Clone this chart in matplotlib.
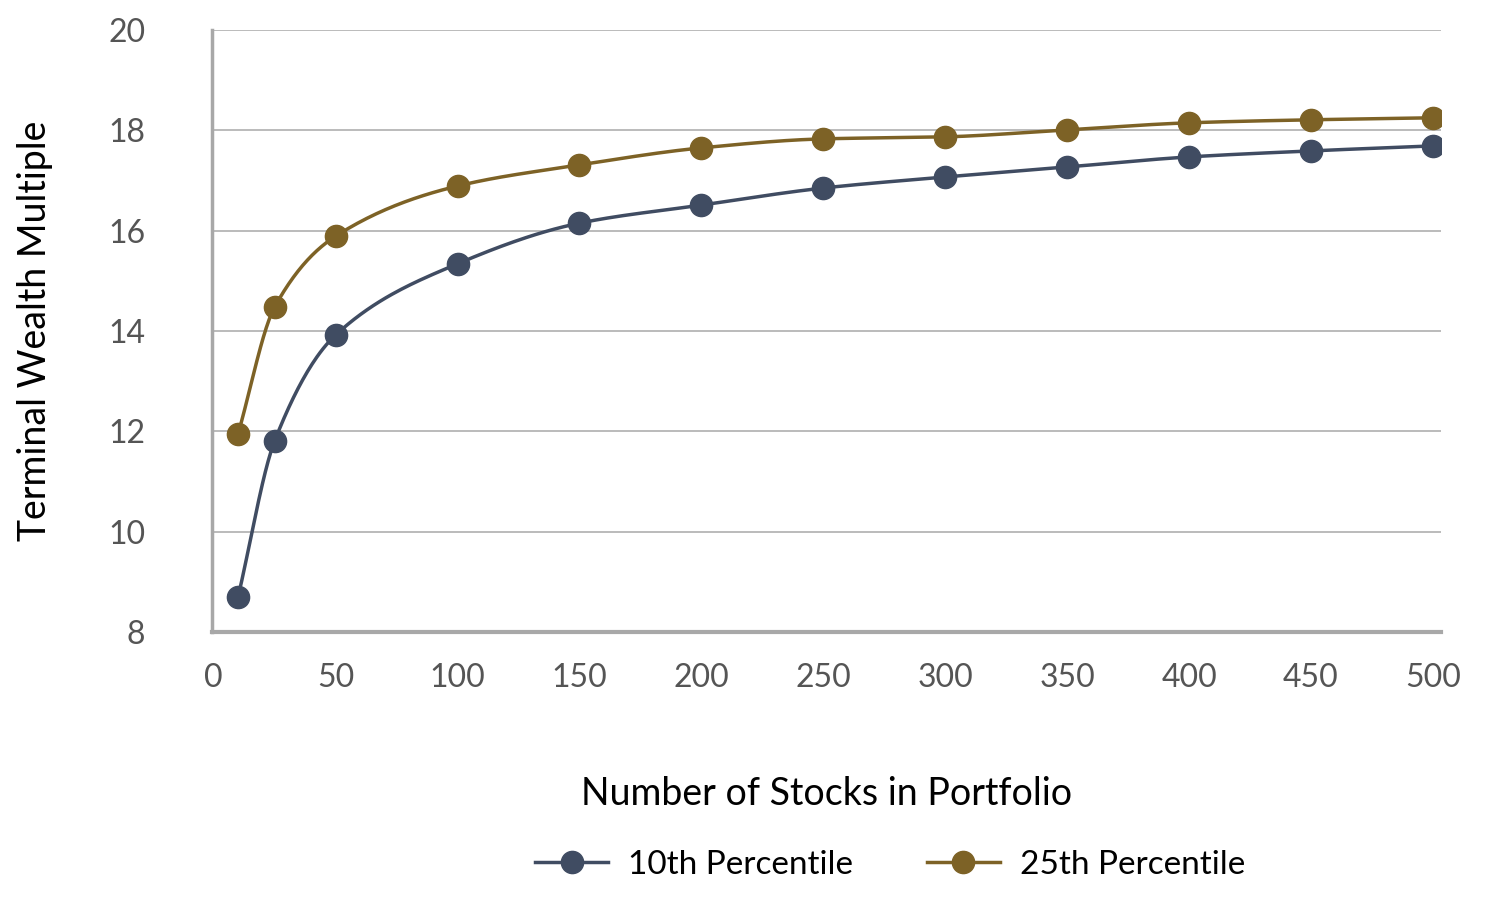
import numpy as np
import matplotlib
matplotlib.use("Agg")
import matplotlib.pyplot as plt
from matplotlib.lines import Line2D

x = [10, 25, 50, 100, 150, 200, 250, 300, 350, 400, 450, 500]
p10 = [8.70, 11.81, 13.92, 15.34, 16.15, 16.51, 16.85, 17.07, 17.27, 17.47, 17.59, 17.69]
p25 = [11.95, 14.48, 15.89, 16.89, 17.31, 17.65, 17.83, 17.87, 18.01, 18.15, 18.21, 18.25]
xticks = [0, 50, 100, 150, 200, 250, 300, 350, 400, 450, 500]
yticks = [8, 10, 12, 14, 16, 18, 20]

def pchip(xs, ys, n=40):
    xs = np.asarray(xs, float); ys = np.asarray(ys, float)
    h = np.diff(xs); d = np.diff(ys) / h
    m = np.zeros_like(ys)
    for k in range(1, len(xs) - 1):
        if d[k-1] * d[k] > 0:
            w1 = 2*h[k] + h[k-1]; w2 = h[k] + 2*h[k-1]
            m[k] = (w1 + w2) / (w1/d[k-1] + w2/d[k])
    m[0] = d[0]; m[-1] = d[-1]
    X, Y = [], []
    for k in range(len(xs) - 1):
        t = np.linspace(0, 1, n)
        h00 = 2*t**3 - 3*t**2 + 1; h10 = t**3 - 2*t**2 + t
        h01 = -2*t**3 + 3*t**2; h11 = t**3 - t**2
        X.append(xs[k] + t*h[k])
        Y.append(h00*ys[k] + h10*h[k]*m[k] + h01*ys[k+1] + h11*h[k]*m[k+1])
    return np.concatenate(X), np.concatenate(Y)

plt.rcParams['font.family'] = ['Lato', 'DejaVu Sans']
fig = plt.figure(figsize=(15, 9.01), dpi=100)
ax = fig.add_axes([212/1500, 1-632/901, (1441-212)/1500, (632-30)/901])

navy = '#404c62'; gold = '#7d6226'
for ys, c in [(p10, navy), (p25, gold)]:
    sx, sy = pchip(x, ys)
    ax.plot(sx, sy, color=c, lw=2.5, zorder=3)
    ax.plot(x, ys, 'o', color=c, ms=16, zorder=4)

ax.set_xlim(-0.7, 503.3)
ax.set_ylim(8, 20)
ax.set_xticks(xticks)
ax.set_yticks(yticks)
ax.grid(axis='y', color='#b5b5b5', lw=1.3)
ax.set_axisbelow(True)
for s in ['top', 'right']:
    ax.spines[s].set_visible(False)
ax.spines['left'].set_color('#a8a8a8'); ax.spines['left'].set_linewidth(2.5)
ax.spines['bottom'].set_color('#a8a8a8'); ax.spines['bottom'].set_linewidth(3)
ax.tick_params(length=0, labelsize=23, labelcolor='#555555')
ax.tick_params(axis='x', pad=22)
ax.tick_params(axis='y', pad=48)
ax.set_xlabel('Number of Stocks in Portfolio', fontsize=27, labelpad=60)
ax.set_ylabel('Terminal Wealth Multiple', fontsize=27, labelpad=40)

handles = [Line2D([], [], color=navy, lw=2.5, marker='o', ms=16),
           Line2D([], [], color=gold, lw=2.5, marker='o', ms=16)]
fig.legend(handles, ['10th Percentile', '25th Percentile'], loc='center',
           bbox_to_anchor=(890/1500, 1-865/901), ncol=2, frameon=False,
           fontsize=24, handlelength=2.2, handletextpad=0.6, columnspacing=2.2)
fig.savefig('out.png', dpi=100)
